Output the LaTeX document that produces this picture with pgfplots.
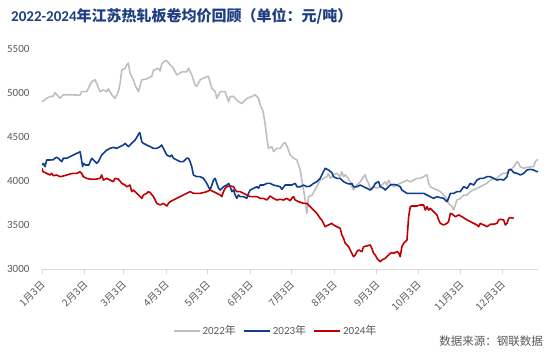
\documentclass[border=0pt]{standalone}
\usepackage{pgfplots}
\pgfplotsset{compat=1.18}
\usepackage{fontspec}
\setmainfont{Carlito}
\newfontfamily\cjk{Noto Sans CJK SC}
\definecolor{c22}{HTML}{BFBFBF}
\definecolor{c23}{HTML}{0F3E8C}
\definecolor{c24}{HTML}{C00000}
\definecolor{titleblue}{HTML}{1F3F82}
\definecolor{txtgray}{HTML}{595959}
\definecolor{axgray}{HTML}{D9D9D9}
\begin{document}
\begin{tikzpicture}[x=1pt,y=1pt]
\useasboundingbox (0,0) rectangle (554,352);
\node[anchor=west, inner sep=0, text=titleblue, font=\fontsize{15}{18}\selectfont] at (11,336) {\bfseries 2022-2024{\cjk\bfseries 年江苏热轧板卷均价回顾（单位：元/吨）}};
\node[anchor=east, inner sep=0, text=txtgray, font=\cjk\fontsize{11.5}{14}\selectfont] at (543,11) {数据来源：钢联数据};
\begin{axis}[
  at={(42pt,83pt)}, anchor=south west,
  scale only axis, width=496pt, height=220pt,
  xmin=0, xmax=360, ymin=3000, ymax=5500,
  axis x line*=bottom, axis y line*=left,
  x axis line style={draw=axgray, line width=0.8pt, -},
  y axis line style={draw=none},
  tick align=outside,
  xtick style={draw=axgray, line width=0.8pt},
  ytick style={draw=none},
  major tick length=5pt,
  xtick={0,31,59,90,120,151,181,212,243,273,304,334},
  xticklabels={1月3日,2月3日,3月3日,4月3日,5月3日,6月3日,7月3日,8月3日,9月3日,10月3日,11月3日,12月3日},
  xticklabel style={yshift=-8pt, xshift=2pt, rotate=45, anchor=east, inner sep=1pt, font=\cjk\fontsize{10}{12}\selectfont, text=txtgray},
  ytick={3000,3500,4000,4500,5000,5500},
  yticklabel style={font=\fontsize{11}{13}\selectfont, text=txtgray, xshift=-4pt},
  /pgf/number format/assume math mode=true,
  /pgf/number format/1000 sep={},
  legend style={at={(axis description cs:0.4708,-0.282)}, anchor=center, draw=none, fill=none,
    legend columns=3, font=\fontsize{11}{13}\selectfont, text=txtgray,
    /tikz/every even column/.append style={column sep=5pt}},
  legend image code/.code={\draw[#1, line width=2pt] (0pt,0pt) -- (26pt,0pt);},
  every axis plot/.append style={line width=1.6pt, line join=round, mark=none},
]
\addplot[c22] coordinates {(0,4900)(3.4,4940)(5.8,4960)(8,4960)(9.4,5005)(11.9,4960)(13.1,4940)(15.5,4980)(20,4980)(27.6,4975)(28.8,5015)(32.4,5015)(36.1,5130)(38.5,5150)(39.7,5110)(42.1,5015)(44.6,5035)(47,5015)(48.2,5050)(50.6,4980)(53,4940)(55.4,5015)(56.7,5110)(57.9,5260)(60.3,5280)(61.5,5320)(62.7,5340)(63.9,5225)(66.3,5150)(67.6,5090)(70,5015)(72.4,5150)(76,5160)(79.7,5190)(80.9,5260)(84.5,5280)(85.7,5250)(86.9,5330)(89.3,5365)(90.6,5365)(93,5320)(95.4,5280)(97.8,5205)(101.5,5240)(105,5240)(106.3,5280)(108.7,5205)(111.1,5090)(112.3,5075)(114.8,5150)(117.2,5170)(120.8,5190)(123.2,5055)(125.7,5015)(126.9,4940)(129.3,5015)(132.9,5015)(135.4,4900)(136.6,4960)(139,4960)(142.6,4900)(145,4880)(148.7,4940)(152.3,4960)(154.7,4980)(157.1,4940)(158.4,4865)(160.5,4790)(162,4640)(163.5,4450)(164.4,4370)(166.8,4390)(168,4335)(170.5,4370)(172.9,4370)(175.3,4428)(176.5,4435)(177.7,4400)(178.9,4350)(180.1,4295)(182.5,4260)(185,4240)(187.4,4125)(188.6,4010)(189.8,3900)(191,3785)(192.2,3630)(193.4,3820)(196,3840)(199.5,3935)(201.9,4010)(204.3,4030)(206.8,4050)(208,4087)(209.2,4030)(210.4,4050)(211.6,4070)(214,4087)(216.4,4050)(217.7,4105)(218.9,4050)(220.1,4070)(221.3,4050)(223.7,3990)(224.9,3935)(226.1,3900)(228.5,3955)(231,3990)(233.4,4050)(234.6,4070)(235.8,4010)(237,3975)(238.2,3915)(239.4,3900)(240.7,3935)(243.1,3915)(245.5,3935)(247.9,3975)(249.1,3990)(250.3,3955)(251.6,4010)(252.8,3975)(255.2,3935)(257.6,3955)(260,3975)(262.5,3990)(264.9,4010)(267.3,3990)(269.7,4010)(272.1,4030)(274.5,4030)(277,4050)(279.4,4070)(280.6,3975)(281.8,3935)(284.2,3915)(286.7,3900)(289.1,3880)(291.5,3840)(293.9,3800)(295.1,3745)(297.6,3710)(298.8,3670)(300,3730)(301.2,3785)(303.6,3800)(306,3840)(308.5,3840)(310.9,3880)(313.3,3900)(315.7,3915)(318.1,3935)(320.6,3955)(323,3975)(325.4,4010)(327.8,4030)(330.2,4030)(332.7,4070)(335.1,4090)(337.5,4090)(340,4125)(342.4,4160)(344.8,4220)(346,4200)(347.2,4160)(349.6,4145)(352,4155)(354.4,4160)(356.8,4165)(358,4220)(359.3,4240)(360,4245)};
\addlegendentry{2022{\cjk 年}}
\addplot[c23] coordinates {(0,4182)(1,4200)(2.2,4163)(3.4,4239)(6,4239)(8,4240)(9.4,4258)(10.6,4269)(12,4258)(13,4239)(14.3,4220)(15.5,4258)(18,4258)(20.3,4276)(22.7,4295)(25.2,4314)(26.4,4322)(27.6,4333)(28.1,4295)(29.5,4163)(30,4201)(31.5,4182)(34,4182)(35,4220)(36.1,4258)(37.3,4239)(39.7,4201)(40.9,4220)(43.3,4295)(44.6,4314)(45.8,4333)(47,4352)(48.2,4360)(49.4,4371)(51.8,4382)(54.2,4371)(56.6,4390)(59.1,4409)(60.3,4428)(62.7,4390)(65.1,4428)(67.6,4466)(68.8,4496)(70,4530)(70.7,4549)(71.2,4541)(72.4,4447)(73.6,4428)(76,4409)(78.5,4390)(80.9,4371)(83.3,4371)(85.7,4390)(86.9,4409)(88.1,4371)(89.3,4333)(90.6,4295)(93,4276)(94.2,4295)(95.4,4258)(97.8,4239)(100.2,4220)(102.6,4220)(103.8,4239)(105.1,4258)(106.3,4258)(107.5,4220)(108.7,4163)(109.9,4068)(112.3,4049)(114.8,4049)(117.2,4030)(119.6,3973)(120.8,3935)(122,3897)(123.3,3954)(124.5,4011)(125.7,4030)(126.9,3973)(128.1,3917)(129.3,3897)(131.7,3935)(134.2,3954)(135.4,3973)(136.6,3935)(137.8,3879)(139,3897)(140.2,3841)(141.4,3803)(142.6,3841)(143.8,3822)(146.3,3822)(148.7,3803)(149.9,3860)(151.1,3897)(153.5,3917)(156,3935)(157.1,3917)(158.4,3954)(160.8,3954)(163.2,3973)(165.6,3973)(168,3954)(170.4,3945)(172.9,3935)(174.1,3905)(176.5,3954)(179,3954)(181.3,3954)(183.8,3973)(185,3935)(187.4,3935)(189.8,3954)(192.2,3935)(194.7,3943)(197.1,3973)(199.5,3992)(201.9,4030)(204.3,4106)(205.5,4144)(207.9,4125)(210.4,4095)(211.6,4049)(214,4030)(216.4,4030)(218.9,3992)(221.3,3973)(223.7,3965)(224.9,3973)(226.1,3935)(228.5,3935)(231,3954)(233.4,3935)(235.8,3917)(238.2,3897)(240.7,3935)(241.9,3973)(244.3,3992)(245.5,3935)(247.9,3917)(249.1,3897)(251.6,3935)(252.8,3954)(255.2,3961)(257.6,3954)(260,3935)(261.2,3897)(264.9,3860)(267.3,3860)(272.1,3860)(277,3860)(279.4,3841)(281.8,3822)(284.2,3803)(286.7,3822)(289.1,3811)(291.5,3803)(293.9,3765)(295.1,3803)(296.4,3860)(298.8,3860)(301.2,3879)(303.6,3879)(306,3935)(308.5,3917)(310.9,3973)(313.3,3954)(315.7,4011)(318.1,4030)(320.6,4030)(323,4049)(325.4,4049)(327.8,4030)(330.2,4011)(332.7,4019)(335.1,4011)(336.3,4030)(337.5,4049)(338.7,4125)(340,4133)(341.2,4118)(342.4,4095)(344.8,4087)(347.2,4068)(349.6,4087)(352,4125)(354.4,4133)(356.8,4125)(359.3,4106)(360,4106)};
\addlegendentry{2023{\cjk 年}}
\addplot[c24] coordinates {(0,4144)(0.7,4106)(3.4,4087)(5.8,4068)(7,4087)(8.2,4060)(10.6,4068)(13.1,4049)(15.5,4057)(18,4068)(20.3,4080)(22.7,4087)(25.2,4087)(26.4,4095)(27.6,4106)(28.8,4087)(30,4049)(32.4,4030)(34.9,4022)(37.3,4022)(39.7,4022)(42.1,4030)(43.3,4068)(44.6,4011)(47,4030)(49.4,4011)(51.8,3992)(53,4030)(55.4,4022)(57.9,3973)(60.3,3954)(61.5,3935)(63.9,3954)(65.1,3879)(66.3,3897)(68.8,3860)(71.2,3822)(72.4,3803)(73.6,3841)(76,3860)(77.2,3879)(78.5,3868)(80.9,3822)(82.1,3784)(83.3,3746)(85.7,3727)(88.1,3746)(90.6,3716)(91.8,3746)(93,3765)(95.4,3784)(97.8,3803)(100.2,3822)(102.6,3841)(105.1,3860)(107.5,3879)(109.9,3860)(112.3,3860)(114.8,3860)(117.2,3868)(119.6,3879)(122,3897)(124.5,3879)(126.9,3860)(129.3,3841)(130.5,3822)(131.7,3879)(132.9,3917)(134.2,3935)(136.6,3943)(139,3935)(140.2,3897)(141.4,3879)(143.8,3879)(146.3,3860)(148.7,3841)(151.1,3822)(153.5,3822)(156,3822)(158.4,3803)(160.8,3803)(163.2,3784)(165.6,3830)(168,3803)(170.4,3784)(172.9,3792)(175.3,3784)(177.7,3803)(180.1,3776)(181.3,3803)(182.5,3822)(183.8,3784)(186.2,3765)(189.8,3746)(192.2,3746)(193.4,3727)(195.8,3689)(199.5,3632)(201.9,3576)(203.1,3557)(204.3,3519)(205.5,3481)(207.9,3500)(210.4,3519)(211.6,3500)(214,3481)(216.4,3462)(217.7,3386)(218.9,3348)(220.1,3292)(222.5,3254)(224.9,3178)(226.1,3140)(227.3,3159)(228.5,3197)(229.7,3216)(232.2,3197)(233.4,3254)(235.8,3262)(238.2,3273)(239.4,3235)(240.7,3178)(241.9,3159)(243.1,3121)(245.5,3083)(246.7,3102)(249.1,3121)(250.3,3140)(252.8,3178)(254,3186)(255.2,3178)(257.6,3197)(258.8,3186)(260,3140)(261.2,3254)(262.5,3292)(263.7,3311)(264.9,3330)(266.1,3595)(267.3,3708)(268.5,3716)(272.1,3716)(274.5,3727)(277,3727)(278.2,3670)(279.4,3708)(280.6,3670)(281.8,3689)(284.2,3651)(286.7,3614)(287.9,3557)(289.1,3519)(291.5,3500)(293.9,3519)(295.1,3538)(296.4,3632)(297.6,3625)(300,3595)(302.4,3614)(304.8,3595)(308.5,3557)(310.9,3538)(313.3,3519)(315.7,3500)(316.9,3481)(318.1,3519)(320.6,3500)(323,3481)(325.4,3508)(327.8,3508)(330.2,3519)(331.5,3557)(332.7,3565)(335.1,3557)(336.3,3500)(337.5,3519)(338.7,3576)(340,3583)(342.4,3576)};
\addlegendentry{2024{\cjk 年}}
\end{axis}
\end{tikzpicture}
\end{document}
